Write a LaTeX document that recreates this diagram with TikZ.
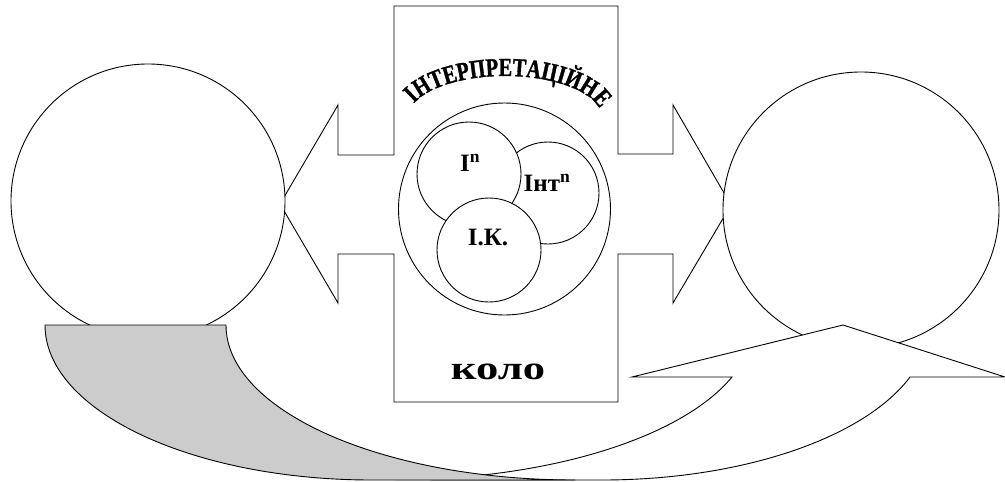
\documentclass[tikz,border=0pt]{standalone}
\usepackage{fontspec}
\setmainfont{Liberation Serif}
\newfontfamily\arcfont{Liberation Serif Bold}[FakeStretch=0.78, FakeBold=1.2]
\usetikzlibrary{decorations.text}
\newcommand\arcstyle{\arcfont\fontsize{26}{26}\selectfont}
\tikzset{
  ring/.style={circle, draw, fill=white, inner sep=0pt},
  tag/.style={font=\bfseries\fontsize{25}{25}\selectfont, inner sep=0pt}
}

\begin{document}
\begin{tikzpicture}[x=1pt, y=-1pt, line width=0.9pt]
    \useasboundingbox (0,0) rectangle (1005,482);
    % box in the middle, with an arrow to each side
    \draw[fill=white] (394,6) -- (618,6) -- (618,154) -- (673,154) -- (673,105)
        -- (731,205) -- (673,303) -- (673,254) -- (618,254) -- (618,402)
        -- (394,402) -- (394,254) -- (338,254) -- (338,303) -- (280,204)
        -- (338,105) -- (338,155) -- (394,155) -- cycle;
    % the two big circles
    \node[ring, minimum size=274pt] (left) at (148,201) {};
    \node[ring, minimum size=276pt] (right) at (861,210) {};
    % circles inside the box
    \node[ring, minimum size=212pt] (whole) at (504.5,209) {};
    \node[ring, minimum size=102pt] (int) at (548,193) {};
    \node[ring, minimum size=104pt] (in) at (469,174) {};
    \node[ring, minimum size=104pt] (ik) at (489,250) {};
    \node[tag] (inlab) at (470,163) {І\textsuperscript{n}};
    \node[tag] (intlab) at (547,183) {Інт\textsuperscript{n}};
    \node[tag] (iklab) at (488,237) {І.К.};
    % words of the box
    \path[decorate, decoration={text along path, text align={fit to path},
        text={|\arcstyle|ІНТЕРПРЕТАЦІЙНЕ}}]
        (413.85,103.6) arc[start angle=200, end angle=340, x radius=97, y radius=42];
    \node[font=\bfseries\fontsize{33}{33}\selectfont, inner sep=0pt] (kolo) at (498,372)
        {\scalebox{1.35}[1]{коло}};
    % curved arrow, front side
    \draw[fill=white] (602,480) arc[start angle=90, end angle=19.6, x radius=327, y radius=155]
        -- (1005,377) -- (843,325) -- (632,377) -- (732,377)
        arc[start angle=19.7, end angle=90, x radius=358, y radius=155] -- cycle;
    % curved arrow, back side
    \draw[fill=black!20] (45,325) arc[start angle=180, end angle=90, x radius=327, y radius=155]
        -- (575,480) arc[start angle=90, end angle=180, x radius=349, y radius=155] -- cycle;
\end{tikzpicture}
\end{document}
